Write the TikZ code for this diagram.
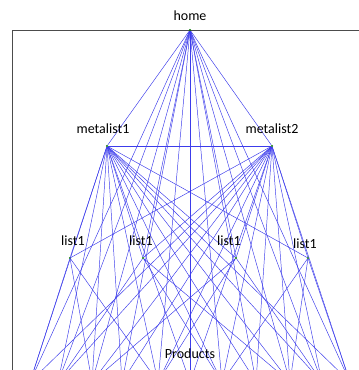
\documentclass[tikz,border=0pt]{standalone}
\usepackage{fontspec}
\setmainfont{Carlito}
\definecolor{linkblue}{RGB}{60,60,235}
\begin{document}
\begin{tikzpicture}[x=0.75pt,y=-0.75pt,
	link/.style		=	{linkblue,line width=.35pt},
	site/.style		=	{circle,fill=green!45!black,inner sep=0pt,minimum size=1.6pt},
	lbl/.style		=	{font=\fontsize{10.5}{12}\selectfont,inner sep=1pt}]

	\useasboundingbox (0,0) rectangle (359,370);
	\clip (0,0) rectangle (359,370);

	% frame
	\draw[gray!60!black,line width=.5pt] (12,372) -- (12,30) -- (362,30);

	% pages
	\node[site] (home) at (190,30) {};
	\node[site] (meta1) at (107,146) {};
	\node[site] (meta2) at (272,146) {};
	\node[site] (list1a) at (70,258) {};
	\node[site] (list1b) at (143,258) {};
	\node[site] (list1c) at (236,258) {};
	\node[site] (list1d) at (308,258) {};

	% products, below the visible part
	\foreach \x [count=\i] in {30,58,92,122,158,190,222,256,290,322,350}
		\coordinate (prod\i) at (\x,382);

	\begin{scope}[link]
		\draw (home) -- (meta1)	(home) -- (meta2);
		\foreach \i in {1,...,11}
			\draw (home) -- (prod\i);
		\draw (home) -- (list1b)	(home) -- (list1c);

		\draw (meta1) -- (meta2);
		\foreach \l in {list1a,list1b,list1c,list1d}
			\draw (meta1) -- (\l)	(meta2) -- (\l);
		\foreach \i in {1,...,11}
			\draw (meta1) -- (prod\i)	(meta2) -- (prod\i);

		\draw (list1a) -- (prod3)	(list1a) -- (prod5)	(list1a) -- (prod1);
		\draw (list1b) -- (prod2)	(list1b) -- (prod7)	(list1b) -- (prod9);
		\draw (list1c) -- (prod3)	(list1c) -- (prod5)	(list1c) -- (prod10);
		\draw (list1d) -- (prod7)	(list1d) -- (prod11)	(list1d) -- (prod9);
	\end{scope}

	% labels
	\node[lbl] (homelbl) at (190,16) {home};
	\node[lbl] (meta1lbl) at (103,129) {metalist1};
	\node[lbl] (meta2lbl) at (272,129) {metalist2};
	\node[lbl] (list1albl) at (73,241) {list1};
	\node[lbl] (list1blbl) at (141,241) {list1};
	\node[lbl] (list1clbl) at (229,241) {list1};
	\node[lbl] (list1dlbl) at (305,244) {list1};
	\node[lbl] (prodlbl) at (190,354) {Products};
\end{tikzpicture}
\end{document}
